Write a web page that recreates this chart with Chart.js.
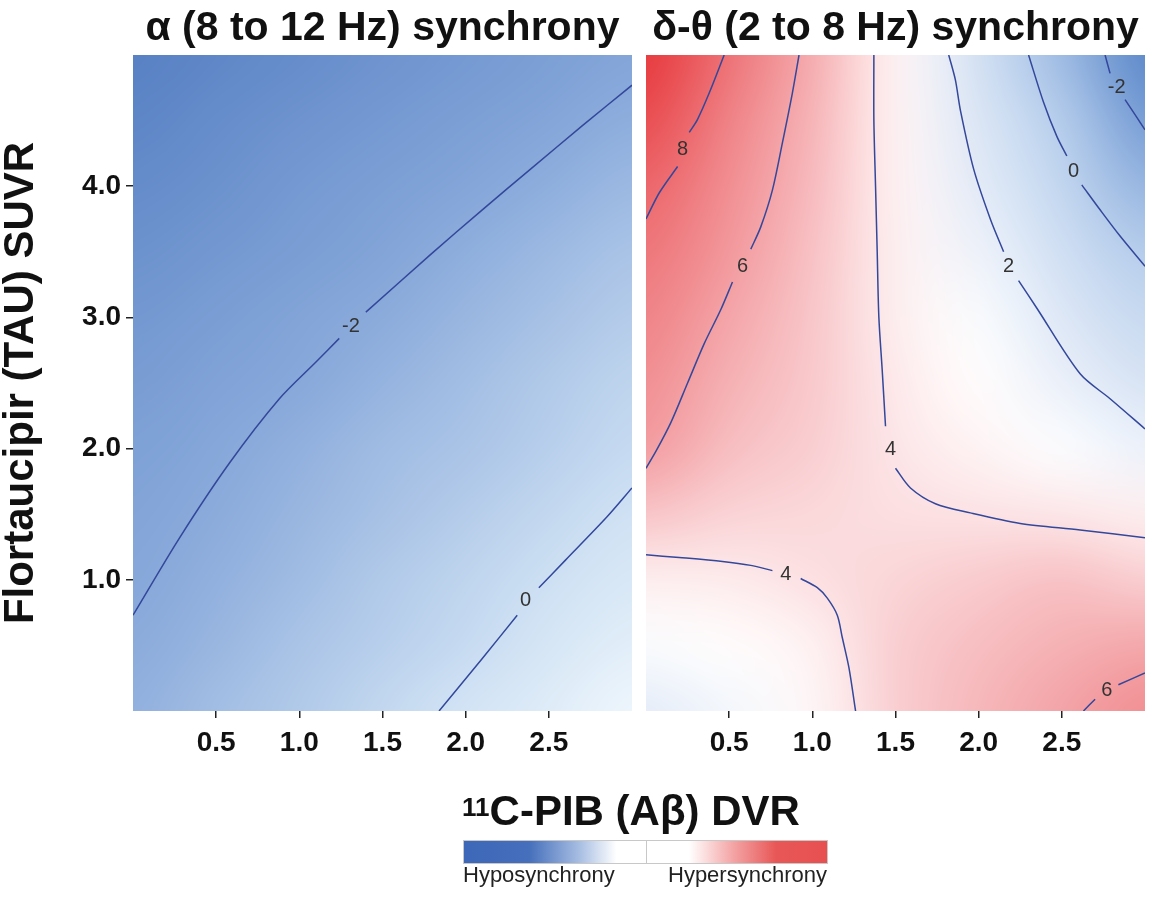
<!DOCTYPE html>
<html>
<head>
<meta charset="utf-8">
<script src="https://cdn.jsdelivr.net/npm/chart.js@4.4.0/dist/chart.umd.min.js"></script>
<style>
  body { margin: 0; background: #fff; font-family: 'Liberation Sans', Arial, sans-serif; }
  #wrap { position: relative; width: 1151px; height: 919px; overflow: hidden; background: #fff; }
  #wrap canvas { position: absolute; top: 0; }
  #left { left: 0; }
  #right { left: 646px; }
  #xtitle { position: absolute; left: 381px; width: 500px; top: 786px; text-align: center;
            font-weight: bold; font-size: 42px; color: #111; line-height: 50px; }
  #xtitle sup { font-size: 26px; position: relative; top: -4px; vertical-align: top; }
  #bar { position: absolute; left: 463px; top: 840px; width: 363px; height: 22px;
         border: 1px solid #c8c8c8;
         background: linear-gradient(to right, #3d67b8 0%, #4670bc 18%, #a9bfe3 32%, #ffffff 42%,
                     #ffffff 62%, #f4a5a6 74%, #e85757 86%, #e85050 100%); }
  #bar div { position: absolute; left: 50%; top: 0; width: 1px; height: 100%; background: #c8c8c8; }
  .lg { position: absolute; top: 862px; font-size: 22px; color: #222; }
</style>
</head>
<body>
<div id="wrap">
  <canvas id="left" width="640" height="800"></canvas>
  <canvas id="right" width="505" height="800"></canvas>
  <div id="xtitle"><sup>11</sup>C-PIB (Aβ) DVR</div>
  <div id="bar"><div></div></div>
  <div class="lg" style="left:463px">Hyposynchrony</div>
  <div class="lg" style="left:668px">Hypersynchrony</div>
</div>
<script>
// axes
const xTickValues = [0.5, 1.0, 1.5, 2.0, 2.5];
const yTickValues = [1.0, 2.0, 3.0, 4.0];

// grid nodes of the surfaces (PIB along x, TAU along y)
const gridX = [0, 0.5, 1.0, 1.5, 2.0, 2.5, 3.0];
const gridY = [0, 0.5, 1.0, 1.5, 2.0, 2.5, 3.0, 3.5, 4.0, 4.5, 5.0];

// alpha synchrony, rows from TAU 0 (bottom) to TAU 5 (top)
const alphaValues = [
  [-1.7, -1.2, -0.8, -0.3,  0.2,  0.6,  1.1],
  [-1.9, -1.5, -1.0, -0.6, -0.2,  0.3,  0.7],
  [-2.1, -1.7, -1.3, -0.8, -0.4,  0.0,  0.4],
  [-2.3, -1.9, -1.5, -1.1, -0.7, -0.3,  0.1],
  [-2.5, -2.1, -1.7, -1.3, -1.0, -0.6, -0.2],
  [-2.8, -2.4, -2.0, -1.6, -1.2, -0.8, -0.4],
  [-3.1, -2.7, -2.3, -1.9, -1.5, -1.1, -0.7],
  [-3.5, -3.1, -2.7, -2.3, -1.8, -1.4, -1.0],
  [-3.9, -3.5, -3.0, -2.6, -2.2, -1.8, -1.4],
  [-4.3, -3.8, -3.4, -3.0, -2.6, -2.2, -1.8],
  [-4.6, -4.2, -3.8, -3.4, -3.0, -2.6, -2.2]
];

// delta-theta synchrony, same layout
const deltaThetaValues = [
  [2.1,  2.6,  3.3,  4.6,  5.3,  5.9,  6.7],
  [2.8,  3.1,  3.5,  4.6,  5.1,  5.5,  5.8],
  [3.6,  3.7,  4.05, 4.4,  4.7,  5.0,  4.6],
  [4.9,  4.45, 4.3,  4.1,  4.0,  3.85, 3.6],
  [6.15, 5.1,  4.6,  3.9,  3.4,  2.85, 2.35],
  [6.7,  5.5,  4.75, 3.75, 3.1,  2.3,  1.45],
  [7.2,  5.85, 4.85, 3.6,  2.8,  1.75, 0.65],
  [7.75, 6.35, 5.0,  3.55, 2.4,  1.1, -0.2],
  [8.4,  6.75, 5.2,  3.5,  2.05, 0.4, -1.15],
  [9.3,  7.25, 5.4,  3.45, 1.65, -0.2, -2.15],
  [10.0, 7.9,  5.65, 3.4,  1.25, -0.9, -3.2]
];

// contour lines, [PIB, TAU]; a null TAU leaves the gap for the label
const alphaContourM2 = [[0, 0.73], [0.28, 1.32], [0.58, 1.89], [0.88, 2.38], [1.1, 2.66], [1.24, 2.84],
  [1.31, null], [1.40, 3.04], [1.79, 3.48], [2.1, 3.82], [2.39, 4.13], [2.7, 4.46], [3.0, 4.77]];
const alphaContour0 = [[1.84, 0], [2.1, 0.4], [2.31, 0.73], [2.36, null], [2.44, 0.94], [2.6, 1.15],
  [2.85, 1.48], [3.0, 1.70]];
const alphaLabelText = ['-2', '0'];
const alphaLabelPos = [[1.31, 2.93], [2.36, 0.84]];

const dtContour8 = [[0.47, 5.0], [0.38, 4.71], [0.31, 4.51], [0.26, 4.41], [0.22, null],
  [0.19, 4.15], [0.08, 3.95], [0, 3.75]];
const dtContour6a = [[0.92, 5.0], [0.88, 4.71], [0.82, 4.33], [0.76, 3.97], [0.69, 3.69], [0.63, 3.52],
  [0.58, null], [0.52, 3.27], [0.45, 3.06], [0.35, 2.8], [0.25, 2.5], [0.15, 2.2], [0.06, 1.98], [0, 1.85]];
const dtContour4a = [[1.37, 5.0], [1.37, 4.5], [1.38, 4.0], [1.39, 3.5], [1.40, 3.0], [1.42, 2.6],
  [1.44, 2.17], [1.47, null], [1.50, 1.85], [1.59, 1.70], [1.74, 1.58], [1.95, 1.51], [2.25, 1.43],
  [2.61, 1.38], [3.0, 1.32]];
const dtContour4b = [[0, 1.19], [0.2, 1.17], [0.46, 1.14], [0.63, 1.11], [0.76, 1.07], [0.84, null],
  [0.93, 1.01], [1.03, 0.94], [1.09, 0.86], [1.15, 0.73], [1.18, 0.56], [1.22, 0.33], [1.26, 0]];
const dtContour2 = [[1.82, 5.0], [1.86, 4.81], [1.89, 4.58], [1.97, 4.13], [2.07, 3.75], [2.15, 3.50],
  [2.18, null], [2.24, 3.28], [2.35, 3.07], [2.61, 2.57], [2.79, 2.38], [3.0, 2.15]];
const dtContour0 = [[2.30, 5.0], [2.39, 4.64], [2.47, 4.38], [2.53, 4.23], [2.57, null], [2.62, 4.01],
  [2.73, 3.82], [2.85, 3.62], [3.0, 3.39]];
const dtContourM2 = [[2.76, 5.0], [2.79, 4.86], [2.82, null], [2.88, 4.66], [3.0, 4.43]];
const dtContour6b = [[2.63, 0], [2.70, 0.09], [2.77, null], [2.84, 0.20], [3.0, 0.29]];
const dtLabelText = ['8', '6', '4', '4', '2', '0', '-2', '6'];
const dtLabelPos = [[0.22, 4.28], [0.58, 3.39], [1.47, 1.99], [0.84, 1.04], [2.18, 3.39],
  [2.57, 4.11], [2.83, 4.75], [2.77, 0.16]];

// colour ramps (value, rgb)
const alphaRamp = [[-4.6, [88, 129, 196]], [-2, [135, 168, 218]], [0, [205, 224, 243]], [1.1, [238, 246, 252]]];
const dtRamp = [[-3.2, [94, 138, 202]], [-2, [123, 160, 214]], [0, [186, 209, 237]], [2, [226, 234, 247]],
  [3, [255, 255, 255]], [4, [252, 226, 228]], [6, [243, 160, 164]], [8, [237, 112, 116]], [10, [231, 58, 62]]];

const lineColor = '#33479b';

function rampColor(v, ramp) {
  if (v <= ramp[0][0]) return ramp[0][1];
  for (let k = 1; k < ramp.length; k++) {
    if (v <= ramp[k][0]) {
      const t = (v - ramp[k - 1][0]) / (ramp[k][0] - ramp[k - 1][0]);
      const a = ramp[k - 1][1], b = ramp[k][1];
      return [0, 1, 2].map(i => Math.round(a[i] + (b[i] - a[i]) * t));
    }
  }
  return ramp[ramp.length - 1][1];
}

// surface: one pixel per grid node, stretched over the scales and smoothed by the canvas
function heatmap(values, ramp) {
  return {
    id: 'heatmap',
    beforeDatasetsDraw(chart) {
      const { ctx, chartArea, scales: { x, y } } = chart;
      const nx = gridX.length, ny = gridY.length;
      const off = document.createElement('canvas');
      off.width = nx; off.height = ny;
      const octx = off.getContext('2d');
      const img = octx.createImageData(nx, ny);
      for (let j = 0; j < ny; j++) {
        for (let i = 0; i < nx; i++) {
          const c = rampColor(values[ny - 1 - j][i], ramp);
          const k = (j * nx + i) * 4;
          img.data[k] = c[0]; img.data[k + 1] = c[1]; img.data[k + 2] = c[2]; img.data[k + 3] = 255;
        }
      }
      octx.putImageData(img, 0, 0);
      const hx = (gridX[1] - gridX[0]) / 2, hy = (gridY[1] - gridY[0]) / 2;
      const left = x.getPixelForValue(gridX[0] - hx);
      const right = x.getPixelForValue(gridX[nx - 1] + hx);
      const top = y.getPixelForValue(gridY[ny - 1] + hy);
      const bottom = y.getPixelForValue(gridY[0] - hy);
      ctx.save();
      ctx.beginPath();
      ctx.rect(chartArea.left, chartArea.top, chartArea.right - chartArea.left, chartArea.bottom - chartArea.top);
      ctx.clip();
      ctx.imageSmoothingEnabled = true;
      ctx.imageSmoothingQuality = 'high';
      ctx.drawImage(off, left, top, right - left, bottom - top);
      ctx.restore();
    }
  };
}

function contourLabels(texts, positions) {
  return {
    id: 'contourLabels',
    afterDatasetsDraw(chart) {
      const { ctx, scales: { x, y } } = chart;
      ctx.save();
      ctx.font = '20px "Liberation Sans", Arial, sans-serif';
      ctx.fillStyle = '#333';
      ctx.textAlign = 'center';
      ctx.textBaseline = 'middle';
      texts.forEach((t, i) => {
        ctx.fillText(t, x.getPixelForValue(positions[i][0]), y.getPixelForValue(positions[i][1]));
      });
      ctx.restore();
    }
  };
}

function contourSet(points) {
  return {
    data: points.map(p => ({ x: p[0], y: p[1] })),
    showLine: true,
    borderColor: lineColor,
    borderWidth: 1.5,
    pointRadius: 0,
    tension: 0.3,
    spanGaps: false
  };
}

function makePanel(id, title, values, ramp, contours, labelText, labelPos, showY) {
  new Chart(document.getElementById(id), {
    type: 'scatter',
    data: { datasets: contours.map(contourSet) },
    plugins: [heatmap(values, ramp), contourLabels(labelText, labelPos)],
    options: {
      responsive: false,
      animation: false,
      events: [],
      layout: { padding: { left: 0, right: showY ? 8 : 6, top: 0, bottom: 0 } },
      plugins: {
        legend: { display: false },
        tooltip: { enabled: false },
        title: {
          display: true,
          fullSize: false,
          text: title,
          color: '#111',
          font: { family: '"Liberation Sans", Arial, sans-serif', size: 41, weight: 'bold', lineHeight: 1.2 },
          padding: { top: 4, bottom: 1.8 }
        }
      },
      scales: {
        x: {
          type: 'linear', min: 0, max: 3,
          afterBuildTicks: s => { s.ticks = xTickValues.map(v => ({ value: v })); },
          afterFit: s => { s.height = 89; },
          border: { display: false },
          grid: { drawOnChartArea: false, drawTicks: true, tickLength: 7, color: '#222', lineWidth: 1.5 },
          ticks: {
            padding: 8, color: '#111',
            font: { family: '"Liberation Sans", Arial, sans-serif', size: 28, weight: 'bold' },
            callback: v => v.toFixed(1)
          }
        },
        y: {
          type: 'linear', min: 0, max: 5,
          display: showY,
          afterBuildTicks: s => { s.ticks = yTickValues.map(v => ({ value: v })); },
          afterFit: s => { s.width = showY ? 133 : 0; },
          border: { display: false },
          grid: { drawOnChartArea: false, drawTicks: true, tickLength: 7, color: '#222', lineWidth: 1.5 },
          ticks: {
            padding: 5, color: '#111',
            font: { family: '"Liberation Sans", Arial, sans-serif', size: 28, weight: 'bold' },
            callback: v => v.toFixed(1)
          },
          title: {
            display: true,
            text: 'Flortaucipir (TAU) SUVR',
            color: '#111',
            font: { family: '"Liberation Sans", Arial, sans-serif', size: 42, weight: 'bold', lineHeight: 1.0 },
            padding: { top: 0, bottom: 0 }
          }
        }
      }
    }
  });
}

makePanel('left', 'α (8 to 12 Hz) synchrony', alphaValues, alphaRamp,
  [alphaContourM2, alphaContour0], alphaLabelText, alphaLabelPos, true);
makePanel('right', 'δ-θ (2 to 8 Hz) synchrony', deltaThetaValues, dtRamp,
  [dtContour8, dtContour6a, dtContour4a, dtContour4b, dtContour2, dtContour0, dtContourM2, dtContour6b],
  dtLabelText, dtLabelPos, false);
</script>
</body>
</html>
